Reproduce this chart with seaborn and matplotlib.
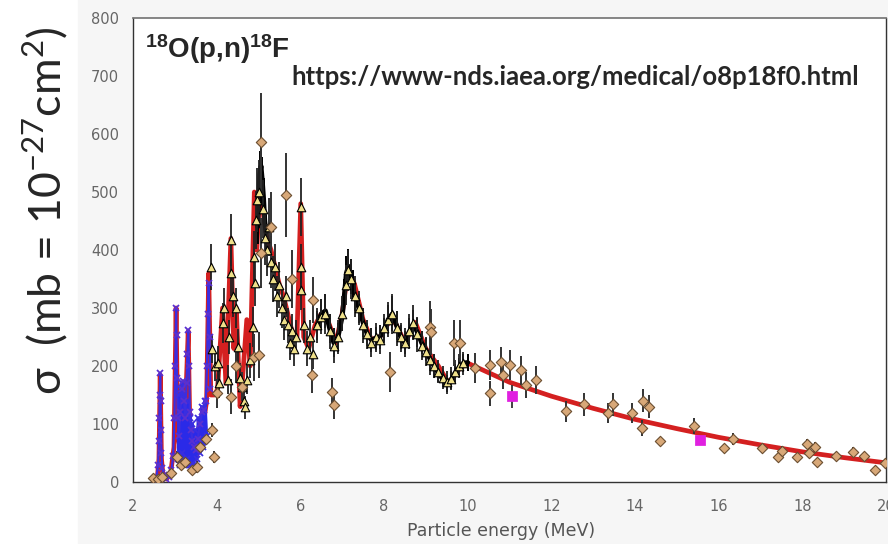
import matplotlib
matplotlib.use("Agg")
import matplotlib.pyplot as plt
from matplotlib.patches import Rectangle
from matplotlib.ticker import MultipleLocator
import seaborn as sns

# evaluated cross section (red curve)
red_e = [2.50, 2.58, 2.62, 2.65, 2.68, 2.72, 2.80, 2.90, 2.98, 3.03,
         3.07, 3.12, 3.19, 3.25, 3.32, 3.36, 3.42, 3.50, 3.60, 3.70,
         3.76, 3.81, 3.86, 3.95, 4.02, 4.14, 4.22, 4.34, 4.41, 4.47,
         4.56, 4.62, 4.72, 4.80, 4.90, 4.96, 5.05, 5.12, 5.20, 5.30,
         5.40, 5.50, 5.60, 5.70, 5.80, 5.92, 6.01, 6.08, 6.20, 6.35,
         6.50, 6.65, 6.85, 7.00, 7.15, 7.30, 7.50, 7.70, 7.90, 8.20,
         8.50, 8.75, 9.00, 9.30, 9.55, 9.80, 10.0, 11.0, 12.0, 13.0,
         14.0, 15.0, 16.0, 17.0, 18.0, 19.0, 20.0]
red_s = [0, 5, 40, 185, 40, 10, 5, 15, 60, 300,
         80, 60, 170, 120, 260, 90, 60, 40, 70, 110,
         140, 360, 150, 150, 160, 300, 170, 420, 230, 300,
         130, 180, 280, 200, 500, 400, 540, 460, 420, 400,
         370, 340, 320, 290, 260, 250, 480, 250, 230, 270,
         290, 280, 240, 290, 370, 340, 280, 245, 250, 285,
         240, 275, 230, 200, 170, 195, 205, 172, 148, 127,
         108, 92, 77, 64, 52, 42, 33]

# high resolution low energy data (blue crosses)
blue_e = [2.52, 2.56, 2.60, 2.62, 2.63, 2.64, 2.65, 2.66, 2.67, 2.68,
          2.70, 2.74, 2.80, 2.86, 2.92, 2.96, 2.99, 3.01, 3.03, 3.04,
          3.05, 3.07, 3.10, 3.13, 3.16, 3.19, 3.22, 3.25, 3.28, 3.30,
          3.32, 3.34, 3.36, 3.39, 3.42, 3.46, 3.50, 3.55, 3.60, 3.65,
          3.70, 3.74, 3.77, 3.79, 3.81, 3.83, 3.85]
blue_s = [2, 8, 30, 70, 110, 150, 188, 140, 90, 50,
          25, 12, 5, 8, 20, 45, 110, 200, 300, 253,
          180, 110, 80, 120, 160, 175, 140, 110, 170, 220,
          262, 200, 120, 90, 70, 60, 55, 75, 100, 120,
          125, 140, 200, 290, 343, 250, 160]
# scattered points of the same data set filling the 3.0-3.8 MeV band
blue2_e = [3.08, 3.10, 3.12, 3.14, 3.16, 3.18, 3.20, 3.22, 3.24, 3.26,
           3.28, 3.30, 3.33, 3.36, 3.39, 3.42, 3.45, 3.48, 3.52, 3.56,
           3.60, 3.64, 3.68, 3.72, 3.76]
blue2_s = [40, 150, 30, 160, 50, 170, 40, 150, 30, 120,
           40, 140, 30, 110, 30, 100, 30, 90, 40, 110,
           50, 130, 60, 140, 80]

# triangles
tri_e = [3.86, 3.90, 3.95, 4.02, 4.06, 4.14, 4.18, 4.26, 4.30, 4.34,
         4.35, 4.40, 4.46, 4.50, 4.55, 4.60, 4.65, 4.68, 4.72, 4.80,
         4.86, 4.90, 4.92, 4.94, 4.96, 5.02, 5.10, 5.15, 5.20, 5.25,
         5.30, 5.35, 5.40, 5.45, 5.50, 5.55, 5.60, 5.65, 5.70, 5.75,
         5.80, 5.85, 5.90, 6.02, 6.02, 6.02, 6.08, 6.15, 6.22, 6.30,
         6.40, 6.50, 6.60, 6.70, 6.80, 6.90, 7.00, 7.08, 7.15, 7.22,
         7.30, 7.40, 7.50, 7.60, 7.70, 7.80, 7.90, 8.00, 8.10, 8.20,
         8.30, 8.40, 8.50, 8.60, 8.70, 8.80, 8.90, 9.00, 9.10, 9.20,
         9.30, 9.40, 9.50, 9.60, 9.70, 9.80, 9.90]
tri_s = [371, 230, 200, 205, 170, 274, 300, 176, 250, 417,
         360, 320, 300, 233, 180, 164, 140, 129, 176, 210,
         267, 388, 343, 452, 486, 500, 470, 420, 400, 440,
         380, 350, 370, 320, 340, 300, 280, 320, 270, 240,
         260, 230, 250, 474, 371, 331, 270, 230, 250, 220,
         270, 285, 290, 260, 235, 250, 290, 340, 365, 350,
         320, 300, 270, 255, 240, 250, 245, 265, 280, 290,
         265, 250, 240, 260, 275, 255, 235, 225, 210, 200,
         190, 180, 172, 178, 190, 200, 205]
tri_err = [40, 25, 25, 30, 25, 35, 35, 25, 30, 45,
           40, 35, 35, 30, 25, 25, 20, 20, 25, 30,
           35, 45, 40, 50, 55, 55, 50, 45, 45, 50,
           45, 40, 40, 35, 40, 35, 35, 35, 30, 30,
           30, 30, 30, 50, 40, 35, 30, 30, 30, 25,
           30, 30, 35, 30, 30, 30, 30, 35, 35, 35,
           35, 30, 30, 25, 25, 25, 25, 25, 30, 35,
           30, 25, 25, 30, 30, 30, 25, 25, 25, 20,
           20, 20, 20, 20, 20, 20, 20]

# diamonds
dia_e = [2.48, 2.60, 2.70, 2.90, 3.06, 3.15, 3.25, 3.40, 3.54, 3.60,
         3.75, 3.90, 3.93, 4.00, 4.34, 4.46, 4.60, 4.90, 5.01, 5.05,
         5.06, 5.30, 5.66, 5.80, 6.27, 6.31, 6.75, 6.80, 8.14, 9.10,
         9.13, 9.68, 9.81, 10.17, 10.53, 10.53, 10.80, 10.84, 11.00, 11.28,
         11.40, 11.64, 12.34, 12.77, 13.35, 13.47, 13.93, 14.17, 14.19, 14.34,
         14.60, 15.42, 16.12, 16.34, 17.04, 17.42, 17.52, 17.88, 18.10, 18.17,
         18.31, 18.36, 18.80, 19.20, 19.47, 19.73, 19.98]
dia_s = [7, 5, 9, 15, 43, 30, 35, 20, 26, 60,
         75, 90, 43, 153, 147, 200, 164, 215, 219, 586,
         395, 440, 495, 350, 184, 314, 155, 133, 190, 267,
         259, 240, 240, 197, 202, 153, 207, 184, 202, 193,
         167, 176, 122, 134, 119, 134, 119, 93, 140, 130,
         70, 96, 58, 74, 58, 43, 54, 43, 66, 50,
         61, 35, 45, 52, 45, 21, 33]
dia_err = [5, 5, 6, 8, 10, 8, 8, 8, 10, 10,
           12, 12, 10, 25, 30, 30, 25, 40, 40, 85,
           60, 60, 72, 50, 30, 40, 25, 25, 35, 45,
           40, 40, 40, 26, 26, 22, 26, 24, 26, 25,
           22, 24, 18, 20, 18, 20, 18, 14, 20, 20,
           8, 14, 8, 10, 8, 6, 8, 6, 8, 8,
           8, 6, 6, 8, 6, 6, 6]

# dense black data
blk1_e = [4.98, 5.00, 5.03, 5.06, 5.09, 5.12, 5.15, 5.18]
blk1_s = [440, 480, 530, 545, 520, 490, 450, 430]
blk1_err = [30, 40, 40, 45, 40, 35, 30, 30]
blk2_e = [6.40, 6.50, 6.60, 6.70, 6.80, 6.90, 7.00, 7.05, 7.10, 7.15,
          7.20, 7.25, 7.30, 7.40, 7.50, 7.60, 7.70, 7.80, 7.90, 8.00,
          8.10, 8.20, 8.30, 8.40, 8.50, 8.60, 8.70, 8.80, 8.90, 9.00,
          9.10, 9.20, 9.30, 9.40, 9.50, 9.60, 9.70, 9.80, 9.90, 10.00]
blk2_s = [270, 290, 295, 265, 240, 250, 285, 320, 360, 372,
          355, 340, 320, 300, 275, 255, 245, 248, 250, 262,
          280, 290, 270, 250, 240, 258, 272, 258, 240, 228,
          212, 200, 188, 178, 170, 176, 188, 198, 205, 206]
blk2_err = [25, 25, 30, 25, 25, 25, 25, 30, 30, 30,
            30, 25, 25, 25, 25, 20, 20, 20, 20, 20,
            25, 30, 25, 20, 20, 25, 25, 25, 20, 20,
            20, 20, 15, 15, 15, 15, 15, 15, 15, 15]

# magenta squares
mag_e = [11.07, 15.55]
mag_s = [148, 73]
mag_err = [20, 5]

sns.set_theme(style="white")
plt.rcParams["font.family"] = ["DejaVu Sans"]
plt.rcParams["mathtext.fontset"] = "custom"
plt.rcParams["mathtext.bf"] = "Liberation Sans:bold"

fig = plt.figure(figsize=(8.88, 5.44), dpi=100)
fig.patches.append(Rectangle((78 / 888, 0), 1, 1, transform=fig.transFigure,
                             color="#f6f6f6", zorder=-10))
ax = fig.add_axes([133 / 888, 62 / 544, 753 / 888, 464 / 544])
ax.set_facecolor("white")
ax.set_zorder(1)

sns.lineplot(x=red_e, y=red_s, color="#d42020", lw=3.4, estimator=None,
             ax=ax, zorder=2)

# black high-resolution data
for e, s, err in [(blk1_e, blk1_s, blk1_err), (blk2_e, blk2_s, blk2_err)]:
    ax.errorbar(e, s, yerr=err, fmt="none", ecolor="black", elinewidth=1.4, zorder=3)
    sns.lineplot(x=e, y=s, color="black", lw=3.5, estimator=None, ax=ax, zorder=3)

sns.lineplot(x=blue2_e, y=blue2_s, color="#2a2ae8", lw=2.2, marker="x",
             markersize=5, markeredgewidth=1.3, markeredgecolor="#3a2ee0",
             estimator=None, ax=ax, zorder=3.8)
sns.lineplot(x=blue_e, y=blue_s, color="#3a2ee0", lw=1.6, marker="x",
             markersize=5, markeredgewidth=1.3, markeredgecolor="#5a30d0",
             estimator=None, ax=ax, zorder=4)

ax.errorbar(tri_e, tri_s, yerr=tri_err, fmt="none", ecolor="#222222",
            elinewidth=1.3, zorder=3.5)
sns.scatterplot(x=tri_e, y=tri_s, marker="^", s=38, color="#efe08a",
                edgecolor="black", linewidth=0.8, ax=ax, zorder=4.5)

ax.errorbar(dia_e, dia_s, yerr=dia_err, fmt="none", ecolor="#333333",
            elinewidth=1.4, zorder=3.5)
sns.scatterplot(x=dia_e, y=dia_s, marker="D", s=28, color="#d8a878",
                edgecolor="#6b4e30", linewidth=0.8, ax=ax, zorder=5)

ax.errorbar(mag_e, mag_s, yerr=mag_err, fmt="none", ecolor="#333333",
            elinewidth=1.3, zorder=5)
sns.scatterplot(x=mag_e, y=mag_s, marker="s", s=45, color="#e020e0",
                edgecolor="#e020e0", ax=ax, zorder=6)

ax.set_xlim(2, 20)
ax.set_ylim(0, 800)
ax.xaxis.set_major_locator(MultipleLocator(2))
ax.xaxis.set_minor_locator(MultipleLocator(1))
ax.yaxis.set_major_locator(MultipleLocator(100))
ax.yaxis.set_minor_locator(MultipleLocator(20))
ax.tick_params(which="both", direction="in", colors="#444444",
               labelcolor="#666666", labelsize=10.5)
ax.tick_params(which="major", length=5, width=1)
ax.tick_params(which="minor", length=3, width=0.8)
ax.tick_params(axis="x", pad=12)
ax.tick_params(axis="y", pad=10)
for side in ["left", "bottom", "right"]:
    ax.spines[side].set_color("#333333")
    ax.spines[side].set_linewidth(1)
ax.spines["top"].set_color("#777777")
ax.set_xlabel("")
ax.set_ylabel("")

fig.text(145 / 888, 1 - 49 / 544, r"$\mathbf{^{18}}$O(p,n)$\mathbf{^{18}}$F",
         fontsize=20, fontweight="bold", family="Liberation Sans",
         ha="left", va="center", zorder=5)
fig.text(575 / 888, 1 - 77 / 544, "https://www-nds.iaea.org/medical/o8p18f0.html",
         fontsize=18.5, fontweight="bold", family="Lato", ha="center",
         va="center", zorder=5)
fig.text(501 / 888, 1 - 531 / 544, "Particle energy (MeV)", color="#555555",
         fontsize=12.5, ha="center", va="center")
fig.text(45 / 888, 1 - 211 / 544,
         r"σ  (mb = 10$^{\mathregular{-27}}$cm$^{\mathregular{2}}$)",
         rotation=90, family="Lato", fontsize=32, ha="center", va="center")

fig.savefig("out.png", dpi=100)
